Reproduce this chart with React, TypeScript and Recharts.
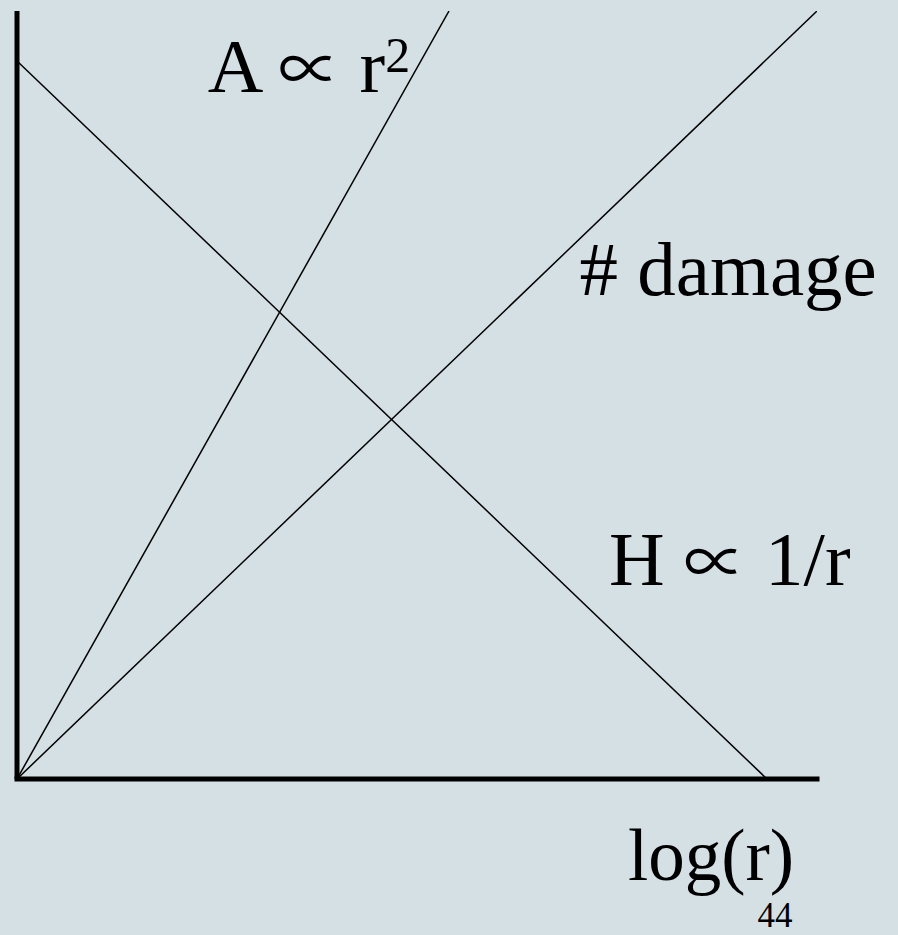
import React from 'react';
import { LineChart, Line, XAxis, YAxis, ReferenceDot, ReferenceLine } from 'recharts';

// ─── Data ──────────────────────────────────────────────────────────────────────
// Schematic log-log sketch: x = log(r), y = log(quantity), both 0..100
const areaLine = [{ x: 0, y: 0 }, { x: 54, y: 100 }];
const damageLine = [{ x: 0, y: 0 }, { x: 100, y: 100 }];
const heightLine = [{ x: 0, y: 93.5 }, { x: 93.75, y: 0 }];

// annotation anchors (data coords, text centred on x, baseline on y)
const labelPre = ['A ', '# damage', 'H ', 'log(r)', '44'];
const labelSym = ['∝', '', '∝', '', ''];
const labelPost = [' r', '', ' 1/r', '', ''];
const labelSup = ['2', '', '', '', ''];
const labelX = [36.5, 88.9, 89.1, 86.75, 94.75];
const labelY = [89.45, 63.0, 25.3, -13.1, -19.27];
const labelSize = [77, 77, 77, 73, 35];

const BG = '#d5e0e5';
const FONT = '"Liberation Serif", "Times New Roman", serif';

const textLabel = (i: number) => (props: any) => {
    const vb = props.viewBox || {};
    const x = (vb.x ?? 0) + (vb.width ?? 0) / 2;
    const y = (vb.y ?? 0) + (vb.height ?? 0) / 2;
    return (
        <text x={x} y={y} textAnchor="middle" fontFamily={FONT} fontSize={labelSize[i]} fill="#000">
            {labelPre[i]}
            {labelSym[i] ? <tspan fontFamily='"Noto Sans CJK JP", "DejaVu Serif", serif' fontSize={62}>{labelSym[i]}</tspan> : null}
            {labelPost[i] ? <tspan>{labelPost[i]}</tspan> : null}
            {labelSup[i] ? <tspan dy={-20} fontSize={50}>{labelSup[i]}</tspan> : null}
        </text>
    );
};

export default function App() {
    return (
        <div style={{ position: 'absolute', left: 0, top: 0, width: 898, height: 935, background: BG, overflow: 'hidden' }}>
            <LineChart width={898} height={935} margin={{ top: 11, right: 81, left: 17, bottom: 156 }}>
                <XAxis type="number" dataKey="x" domain={[0, 100]} hide allowDataOverflow />
                <YAxis type="number" dataKey="y" domain={[0, 100]} hide allowDataOverflow />
                <ReferenceLine x={0} stroke="#000" strokeWidth={5} ifOverflow="visible" />
                <ReferenceLine y={0} stroke="#000" strokeWidth={5} strokeLinecap="square" ifOverflow="visible" />
                <Line data={areaLine} dataKey="y" stroke="#000" strokeWidth={1.5} dot={false} isAnimationActive={false} />
                <Line data={damageLine} dataKey="y" stroke="#000" strokeWidth={1.5} dot={false} isAnimationActive={false} />
                <Line data={heightLine} dataKey="y" stroke="#000" strokeWidth={1.5} dot={false} isAnimationActive={false} />
                {labelPre.map((name, i) => (
                    <ReferenceDot key={name} x={labelX[i]} y={labelY[i]} r={1} fill="none" stroke="none"
                        ifOverflow="visible" label={textLabel(i)} />
                ))}
            </LineChart>
        </div>
    );
}
